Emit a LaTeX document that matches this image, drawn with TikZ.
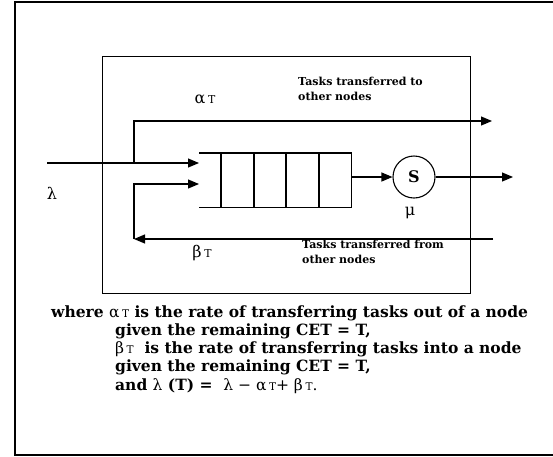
\documentclass[tikz,border=0pt]{standalone}
\usepackage{fontspec}
\setmainfont{DejaVu Serif}
\usetikzlibrary{arrows.meta, positioning, calc}

\newcommand{\rateT}[1]{{\mdseries #1\,\scalebox{0.68}{T}}}

\begin{document}
\begin{tikzpicture}[
    x=1pt, y=-1pt,
    line/.style={line width=1.1pt, draw=black},
    arrow/.style={line, -{Triangle[length=11pt, width=9pt]}},
    server/.style={
        circle, line, minimum size=42pt, inner sep=0pt,
        font=\fontsize{16}{16}\selectfont\bfseries
    },
    note/.style={font=\fontsize{11}{15}\selectfont\bfseries, align=left, inner sep=0pt},
    greek/.style={font=\fontsize{16}{16}\selectfont, inner sep=0pt},
    expl/.style={font=\fontsize{15.5}{18}\selectfont\bfseries, inner sep=0pt, anchor=west}
]
\useasboundingbox (0,0) rectangle (553,456);

% Outer frame (right side runs off the page)
\draw[line width=1.5pt] (553,2) -- (15,2) -- (15,455) -- (553,455);

% Node boundary
\node[draw, line width=1.2pt, minimum width=368pt, minimum height=237pt,
      inner sep=0pt, anchor=north west] (nodebox) at (102,56) {};

% Queue
\node[minimum width=152pt, minimum height=54pt, inner sep=0pt,
      anchor=north west] (queue) at (199,153) {};
\draw[line] (queue.north west) -- (queue.north east) -- (queue.south east) -- (queue.south west);
\foreach \dx in {22,55,87,120}
    \draw[line] ($(queue.north west)+(\dx,0)$) -- ($(queue.south west)+(\dx,0)$);

% Server
\node[server] (srv) at (414,177) {S};

% Entry and exit points
\coordinate (src) at (47,163);
\coordinate (split) at (134,163);
\coordinate (in1) at (199,163);
\coordinate (in2) at (199,184);
\coordinate (away) at (492,121);
\coordinate (from) at (493,239);
\coordinate (merge) at (134,239);
\coordinate (out) at (513,177);

% Arrows
\draw[arrow] (src) -- (in1);
\draw[arrow] (split) |- (away);
\draw[arrow] (from) -- (merge);
\draw[arrow] (merge) |- (in2);
\draw[arrow] (queue.east |- srv.west) -- (srv.west);
\draw[arrow] (srv.east) -- (out);

% Labels
\node[greek] (lam) at (52,193) {λ};
\node[greek] (alpha) at (205,99) {\rateT{α}};
\node[greek] (mu) at (410,213) {μ};
\node[greek] (beta) at (202,253) {\rateT{β}};
\node[note, anchor=north west] (toothers) at (298,77) {Tasks transferred to\\other nodes};
\node[note, anchor=north west] (fromothers) at (302,240) {Tasks transferred from\\other nodes};

% Explanation
\node[expl] (w1) at (51,313) {where \rateT{α} is the rate of transferring tasks out of a node};
\node[expl] (w2) at (115,331) {given the remaining CET = T,};
\node[expl] (w3) at (115,349) {\rateT{β}\ \ is the rate of transferring tasks into a node};
\node[expl] (w4) at (115,367) {given the remaining CET = T,};
\node[expl] (w5) at (115,386) {and {\mdseries λ} (T) = \ {\mdseries λ − \rateT{α}+ \rateT{β}.}};

\end{tikzpicture}
\end{document}
